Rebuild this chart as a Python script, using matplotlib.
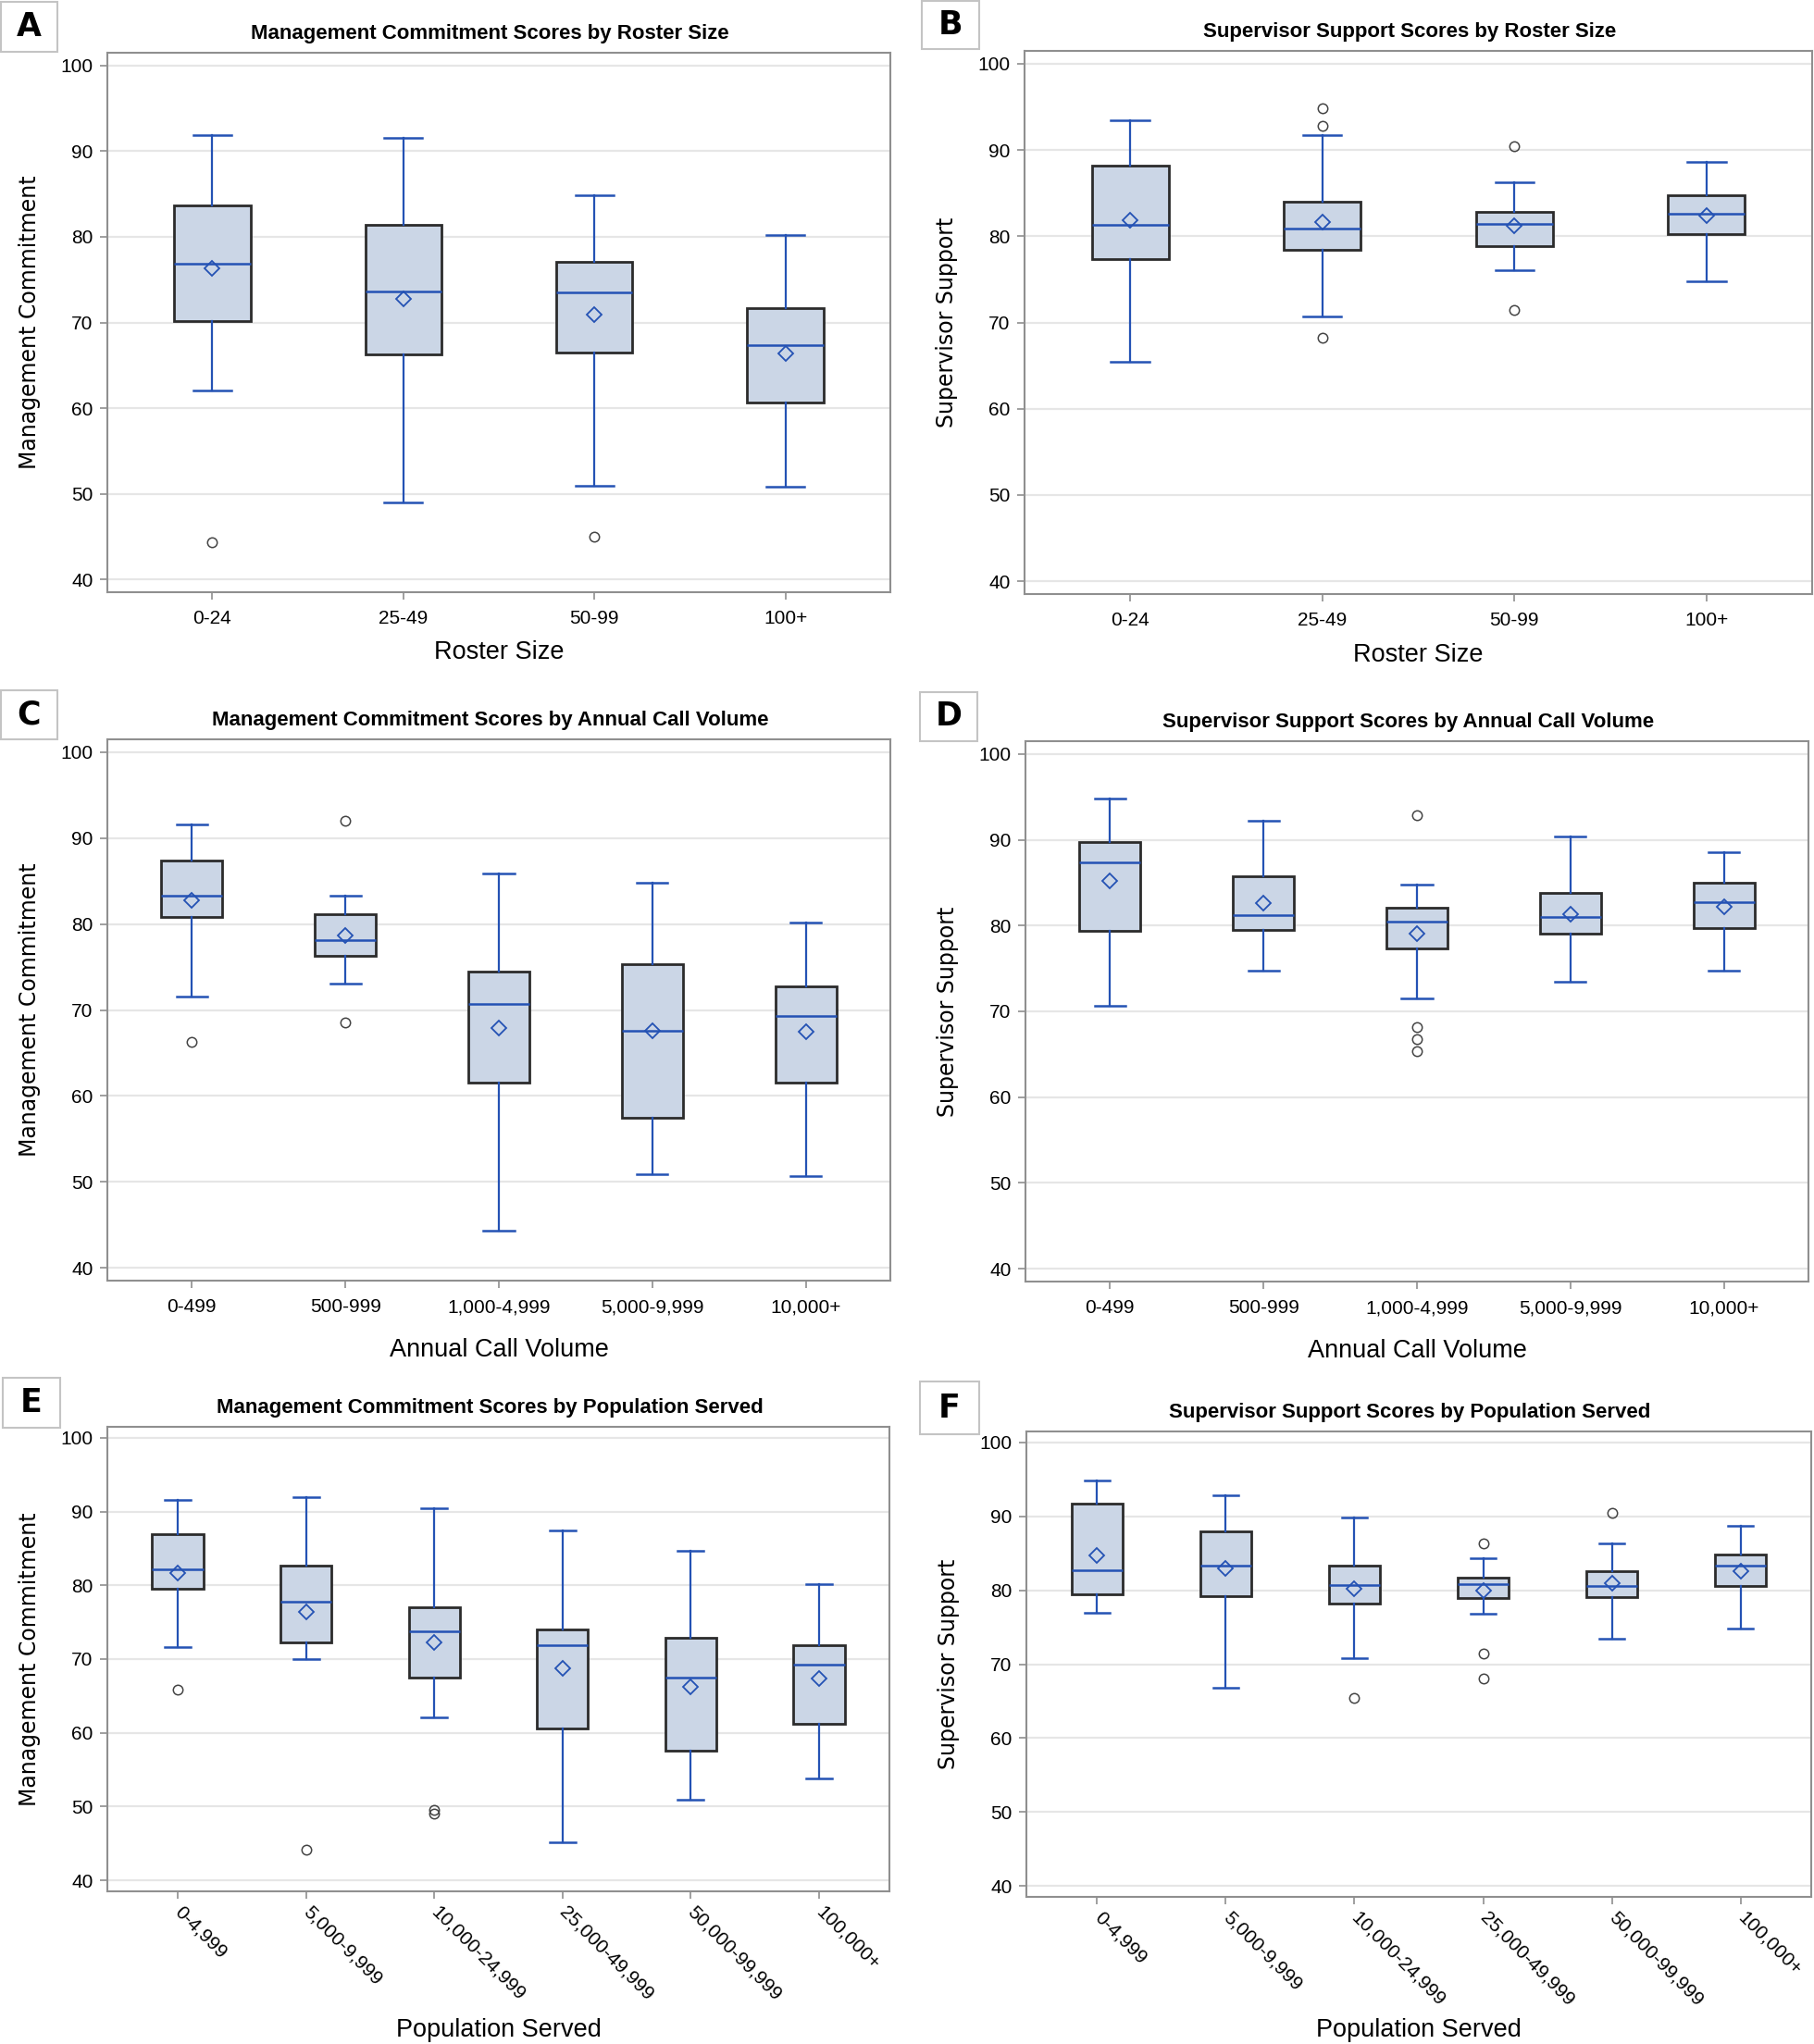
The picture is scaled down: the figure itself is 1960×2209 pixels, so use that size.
import matplotlib
matplotlib.use("Agg")
import matplotlib.pyplot as plt
from matplotlib.patches import Rectangle

# categories
roster_cats = ["0-24", "25-49", "50-99", "100+"]
call_cats = ["0-499", "500-999", "1,000-4,999", "5,000-9,999", "10,000+"]
pop_cats = ["0-4,999", "5,000-9,999", "10,000-24,999", "25,000-49,999",
            "50,000-99,999", "100,000+"]

# A: management commitment by roster size
a_low = [62.1, 49.0, 50.9, 50.8]
a_q1 = [70.2, 66.3, 66.5, 60.7]
a_med = [76.9, 73.6, 73.5, 67.4]
a_q3 = [83.7, 81.4, 77.1, 71.7]
a_high = [91.9, 91.6, 84.9, 80.2]
a_mean = [76.3, 72.8, 70.9, 66.4]
a_out = [[44.3], [], [45.0], []]

# B: supervisor support by roster size
b_low = [65.4, 70.7, 76.1, 74.8]
b_q1 = [77.4, 78.4, 78.9, 80.3]
b_med = [81.3, 80.9, 81.4, 82.6]
b_q3 = [88.2, 84.0, 82.8, 84.8]
b_high = [93.5, 91.7, 86.3, 88.6]
b_mean = [81.9, 81.6, 81.2, 82.4]
b_out = [[], [94.8, 92.8, 68.2], [90.4, 71.4], []]

# C: management commitment by annual call volume
c_low = [71.6, 73.1, 44.3, 50.9, 50.7]
c_q1 = [80.8, 76.3, 61.5, 57.5, 61.5]
c_med = [83.3, 78.1, 70.7, 67.6, 69.3]
c_q3 = [87.4, 81.1, 74.5, 75.3, 72.8]
c_high = [91.6, 83.3, 85.9, 84.8, 80.2]
c_mean = [82.8, 78.7, 67.9, 67.6, 67.5]
c_out = [[66.3], [92.0, 68.5], [], [], []]

# D: supervisor support by annual call volume
d_low = [70.7, 74.7, 71.5, 73.5, 74.7]
d_q1 = [79.4, 79.5, 77.3, 79.1, 79.7]
d_med = [87.4, 81.2, 80.5, 81.0, 82.7]
d_q3 = [89.7, 85.7, 82.1, 83.8, 85.0]
d_high = [94.8, 92.2, 84.8, 90.4, 88.6]
d_mean = [85.2, 82.6, 79.1, 81.3, 82.2]
d_out = [[], [], [92.9, 68.2, 66.8, 65.4], [], []]

# E: management commitment by population served
e_low = [71.6, 70.0, 62.1, 45.1, 50.9, 53.8]
e_q1 = [79.6, 72.3, 67.5, 60.6, 57.6, 61.2]
e_med = [82.2, 77.8, 73.8, 71.9, 67.5, 69.2]
e_q3 = [86.9, 82.7, 77.0, 74.0, 72.9, 71.9]
e_high = [91.6, 92.0, 90.5, 87.4, 84.7, 80.2]
e_mean = [81.7, 76.4, 72.2, 68.7, 66.2, 67.4]
e_out = [[65.8], [44.2], [49.6, 49.1], [], [], []]

# F: supervisor support by population served
f_low = [77.0, 66.8, 70.8, 76.8, 73.4, 74.8]
f_q1 = [79.4, 79.2, 78.2, 78.9, 79.1, 80.6]
f_med = [82.7, 83.3, 80.7, 80.8, 80.6, 83.4]
f_q3 = [91.7, 88.0, 83.3, 81.7, 82.6, 84.8]
f_high = [94.9, 92.9, 89.8, 84.4, 86.3, 88.7]
f_mean = [84.7, 83.0, 80.2, 79.9, 80.9, 82.6]
f_out = [[], [], [65.4], [86.4, 71.4, 68.1], [90.5], []]

BLUE = "#2452b4"
FILL = "#cbd6e6"
EDGE = "#2b2b2b"
FRAME = "#8f8f8f"
NARROW = ["Liberation Sans", "DejaVu Sans"]

W, H = 1960, 2209
fig = plt.figure(figsize=(W / 100, H / 100), dpi=100)


def add_ax(x0, x1, y0, y1):
    # pixel box -> figure fraction
    return fig.add_axes([x0 / W, 1 - y1 / H, (x1 - x0) / W, (y1 - y0) / H])


def panel(ax, cats, low, q1, med, q3, high, mean, out, title, xlabel, ylabel,
          xlab_y, rotate=False):
    stats = []
    for i, c in enumerate(cats):
        stats.append(dict(label=c, whislo=low[i], q1=q1[i], med=med[i],
                          q3=q3[i], whishi=high[i], mean=mean[i],
                          fliers=out[i]))
    ax.bxp(stats, positions=range(len(cats)), widths=0.4, capwidths=0.2,
           showmeans=True, patch_artist=True,
           boxprops=dict(facecolor=FILL, edgecolor=EDGE, linewidth=2.0),
           medianprops=dict(color=BLUE, linewidth=1.8),
           whiskerprops=dict(color=BLUE, linewidth=1.6),
           capprops=dict(color=BLUE, linewidth=1.8),
           meanprops=dict(marker="D", markerfacecolor="none",
                          markeredgecolor=BLUE, markersize=8.5,
                          markeredgewidth=1.3),
           flierprops=dict(marker="o", markerfacecolor="none",
                           markeredgecolor="#444444", markersize=7.5,
                           markeredgewidth=1.1))
    ax.set_xlim(-0.55, len(cats) - 0.45)
    ax.set_ylim(38.5, 101.5)
    ax.set_yticks(range(40, 101, 10))
    ax.yaxis.grid(True, color="#e6e6e6", linewidth=1.6)
    ax.set_axisbelow(True)
    for s in ax.spines.values():
        s.set_color(FRAME)
        s.set_linewidth(1.5)
    ax.tick_params(length=6, width=1.2, color=FRAME, labelsize=15, pad=5)
    for lab in ax.get_yticklabels():
        lab.set_family(NARROW)
    ax.set_xticks(range(len(cats)))
    if rotate:
        ax.set_xticklabels(cats, rotation=-45, ha="left", va="center",
                           rotation_mode="anchor", family=NARROW)
    else:
        ax.set_xticklabels(cats, family=NARROW)
    ax.tick_params(axis="x", pad=8)
    ax.set_title(title, fontsize=16, fontweight="bold", family=NARROW,
                 x=0.489, pad=11)
    ax.set_xlabel(xlabel, fontsize=19.5, family=NARROW, va="center")
    ax.xaxis.set_label_coords(0.5, xlab_y)
    ax.set_ylabel(ylabel, fontsize=17, family="DejaVu Sans")
    ax.yaxis.set_label_coords(-0.085, 0.5)


def tag(letter, x0, x1, y0, y1):
    fig.patches.append(Rectangle((x0 / W, 1 - y1 / H), (x1 - x0) / W,
                                 (y1 - y0) / H, transform=fig.transFigure,
                                 facecolor="white", edgecolor="#c4c4c4",
                                 linewidth=1.5))
    fig.text((x0 + x1) / 2 / W, 1 - (y0 + y1) / 2 / H, letter, fontsize=25,
             fontweight="bold", ha="center", va="center", family="DejaVu Sans")


ax = add_ax(116, 962, 57, 640)
panel(ax, roster_cats, a_low, a_q1, a_med, a_q3, a_high, a_mean, a_out,
      "Management Commitment Scores by Roster Size", "Roster Size",
      "Management Commitment", -0.111)
ax = add_ax(1107, 1958, 55, 642)
panel(ax, roster_cats, b_low, b_q1, b_med, b_q3, b_high, b_mean, b_out,
      "Supervisor Support Scores by Roster Size", "Roster Size",
      "Supervisor Support", -0.112)
ax = add_ax(116, 962, 799, 1384)
panel(ax, call_cats, c_low, c_q1, c_med, c_q3, c_high, c_mean, c_out,
      "Management Commitment Scores by Annual Call Volume",
      "Annual Call Volume", "Management Commitment", -0.128)
ax = add_ax(1108, 1954, 801, 1385)
panel(ax, call_cats, d_low, d_q1, d_med, d_q3, d_high, d_mean, d_out,
      "Supervisor Support Scores by Annual Call Volume",
      "Annual Call Volume", "Supervisor Support", -0.128)
ax = add_ax(116, 961, 1542, 2044)
panel(ax, pop_cats, e_low, e_q1, e_med, e_q3, e_high, e_mean, e_out,
      "Management Commitment Scores by Population Served",
      "Population Served", "Management Commitment", -0.299, rotate=True)
ax = add_ax(1109, 1957, 1547, 2050)
panel(ax, pop_cats, f_low, f_q1, f_med, f_q3, f_high, f_mean, f_out,
      "Supervisor Support Scores by Population Served",
      "Population Served", "Supervisor Support", -0.286, rotate=True)

tag("A", 1, 62, 2, 56)
tag("B", 996, 1058, 1, 53)
tag("C", 1, 62, 746, 799)
tag("D", 994, 1056, 748, 801)
tag("E", 3, 65, 1489, 1543)
tag("F", 994, 1058, 1493, 1550)

fig.savefig("out.png", dpi=100, facecolor="white")
